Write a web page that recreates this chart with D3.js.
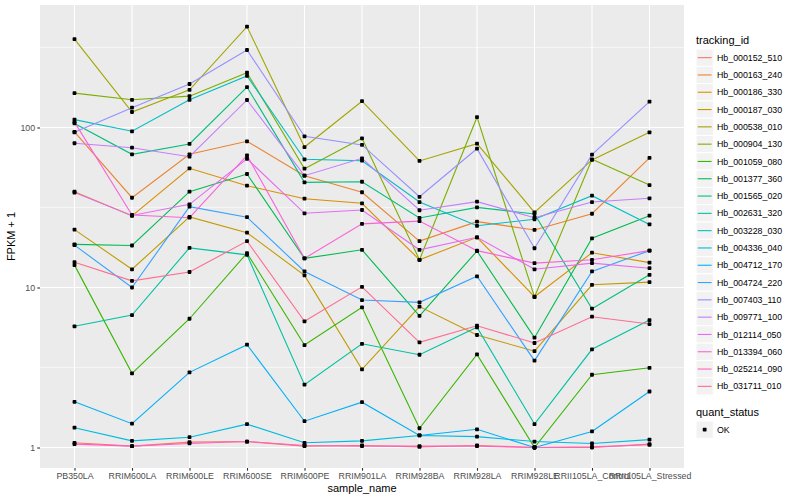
<!DOCTYPE html>
<html>
<head>
<meta charset="utf-8">
<script src="https://cdn.jsdelivr.net/npm/d3@7"></script>
<style>
  body { margin: 0; background: #fff; }
  svg { font-family: "Liberation Sans", Arial, Helvetica, sans-serif; }
</style>
</head>
<body>
<svg id="chart"></svg>
<script>
// sample names (x axis)
const samples = ["PB350LA", "RRIM600LA", "RRIM600LE", "RRIM600SE", "RRIM600PE", "RRIM901LA",
  "RRIM928BA", "RRIM928LA", "RRIM928LE", "RRII105LA_Control", "RRII105LA_Stressed"];

const trackingIds = ["Hb_000152_510", "Hb_000163_240", "Hb_000186_330", "Hb_000187_030",
  "Hb_000538_010", "Hb_000904_130", "Hb_001059_080", "Hb_001377_360", "Hb_001565_020",
  "Hb_002631_320", "Hb_003228_030", "Hb_004336_040", "Hb_004712_170", "Hb_004724_220",
  "Hb_007403_110", "Hb_009771_100", "Hb_012114_050", "Hb_013394_060", "Hb_025214_090",
  "Hb_031711_010"];

// FPKM + 1, one array per gene, in sample order
const hb_000152_510 = [1.07, 1.02, 1.08, 1.09, 1.02, 1.03, 1.01, 1.03, 1.0, 1.0, 1.05];
const hb_000163_240 = [94, 36.4, 68, 82, 50, 39.4, 19.5, 25.8, 22.9, 28.9, 64.5];
const hb_000186_330 = [39.7, 28, 55.6, 43.3, 35.9, 33.6, 14.9, 20.6, 8.76, 16.5, 14.3];
const hb_000187_030 = [23, 13, 27.6, 22, 11.9, 3.08, 7.6, 5.05, 4.0, 10.4, 10.8];
const hb_000538_010 = [357, 125, 172, 427, 75.5, 146, 61.8, 79.2, 29.5, 62.7, 93.3];
const hb_000904_130 = [164, 149, 157, 220, 55.3, 85.6, 14.9, 116, 8.72, 63.3, 43.7];
const hb_001059_080 = [13.8, 2.91, 6.38, 16.4, 4.37, 7.52, 1.32, 3.82, 1.0, 2.85, 3.15];
const hb_001377_360 = [18.6, 18.3, 39.7, 51.2, 15.2, 17.2, 6.64, 16.9, 4.86, 20.3, 28.1];
const hb_001565_020 = [106, 68, 78.9, 179, 45.4, 45.8, 27.2, 31.7, 28.8, 7.37, 12];
const hb_002631_320 = [5.72, 6.73, 17.7, 16.0, 2.47, 4.45, 3.8, 5.64, 1.4, 4.11, 6.26];
const hb_003228_030 = [112, 94.7, 149, 210, 63.3, 62, 34.2, 24.3, 26.7, 37.5, 24.8];
const hb_004336_040 = [1.33, 1.10, 1.16, 1.40, 1.07, 1.10, 1.19, 1.17, 1.09, 1.06, 1.12];
const hb_004712_170 = [1.93, 1.41, 2.95, 4.39, 1.46, 1.92, 1.19, 1.30, 1.0, 1.26, 2.24];
const hb_004724_220 = [18.4, 10, 32, 27.5, 12.6, 8.35, 8.08, 11.75, 3.49, 12.6, 17];
const hb_007403_110 = [93.3, 133, 187, 305, 88.1, 77.8, 36.9, 73.7, 17.6, 67.6, 145];
const hb_009771_100 = [79.7, 74.8, 65.7, 148.6, 50, 64.2, 30.4, 34.4, 27.3, 34.2, 36.1];
const hb_012114_050 = [39.2, 28.2, 33.1, 63.8, 29.1, 30.5, 17.2, 20.6, 13, 14.2, 13.2];
const hb_013394_060 = [108, 28.4, 27.3, 67, 15.2, 25, 26, 17, 14.2, 14.9, 17];
const hb_025214_090 = [1.05, 1.02, 1.06, 1.09, 1.03, 1.02, 1.02, 1.02, 1.0, 1.01, 1.04];
const hb_031711_010 = [14.4, 11, 12.5, 19.5, 6.15, 10.1, 4.54, 5.77, 4.5, 6.57, 5.91];

const seriesValues = [hb_000152_510, hb_000163_240, hb_000186_330, hb_000187_030,
  hb_000538_010, hb_000904_130, hb_001059_080, hb_001377_360, hb_001565_020,
  hb_002631_320, hb_003228_030, hb_004336_040, hb_004712_170, hb_004724_220,
  hb_007403_110, hb_009771_100, hb_012114_050, hb_013394_060, hb_025214_090,
  hb_031711_010];

const yTicks = [1, 10, 100];
const yMinor = [Math.pow(10, 0.5), Math.pow(10, 1.5), Math.pow(10, 2.5)];
const quantStatus = ["OK"];

// ggplot default hue palette for 20 levels
const palette = ["#F8766D", "#EA8331", "#D89000", "#C09B00", "#A3A500", "#7CAE00", "#39B600",
  "#00BB4E", "#00BF7D", "#00C1A3", "#00BFC4", "#00BAE0", "#00B0F6", "#35A2FF", "#9590FF",
  "#C77CFF", "#E76BF3", "#FA62DB", "#FF62BC", "#FF6C91"];

const W = 800, H = 500;
const panel = { left: 40, right: 684, top: 5, bottom: 468 };

const svg = d3.select("#chart").attr("width", W).attr("height", H);

const x = d3.scalePoint().domain(samples).range([panel.left, panel.right]).padding(0.6);
const y = d3.scaleLog()
  .domain([Math.pow(10, -0.128), Math.pow(10, 2.7656)])
  .range([panel.bottom, panel.top]);
const color = d3.scaleOrdinal().domain(trackingIds).range(palette);

// panel background
svg.append("rect")
  .attr("x", panel.left).attr("y", panel.top)
  .attr("width", panel.right - panel.left).attr("height", panel.bottom - panel.top)
  .attr("fill", "#EBEBEB");

const grid = svg.append("g");
grid.selectAll(".minor").data(yMinor).join("line")
  .attr("x1", panel.left).attr("x2", panel.right)
  .attr("y1", d => y(d)).attr("y2", d => y(d))
  .attr("stroke", "#fff").attr("stroke-width", 0.55);
grid.selectAll(".majory").data(yTicks).join("line")
  .attr("x1", panel.left).attr("x2", panel.right)
  .attr("y1", d => y(d)).attr("y2", d => y(d))
  .attr("stroke", "#fff").attr("stroke-width", 1.1);
grid.selectAll(".majorx").data(samples).join("line")
  .attr("x1", d => x(d)).attr("x2", d => x(d))
  .attr("y1", panel.top).attr("y2", panel.bottom)
  .attr("stroke", "#fff").attr("stroke-width", 1.1);

// lines
const line = d3.line()
  .x((d, i) => x(samples[i]))
  .y(d => y(d));

svg.append("g").selectAll("path")
  .data(seriesValues)
  .join("path")
  .attr("d", d => line(d))
  .attr("fill", "none")
  .attr("stroke", (d, i) => color(trackingIds[i]))
  .attr("stroke-width", 1.1);

// points
const pts = [];
seriesValues.forEach(vals => vals.forEach((v, i) => pts.push({ s: samples[i], v })));
svg.append("g").selectAll("rect")
  .data(pts)
  .join("rect")
  .attr("x", d => x(d.s) - 1.9).attr("y", d => y(d.v) - 1.9)
  .attr("width", 3.8).attr("height", 3.8)
  .attr("rx", 0.8)
  .attr("fill", "#000");

// axes
const xAxis = svg.append("g")
  .attr("transform", `translate(0,${panel.bottom})`)
  .call(d3.axisBottom(x).tickSize(2.75).tickPadding(2.2));
const yAxis = svg.append("g")
  .attr("transform", `translate(${panel.left},0)`)
  .call(d3.axisLeft(y).tickValues(yTicks).tickFormat(d3.format("d")).tickSize(2.75).tickPadding(2.2));

[xAxis, yAxis].forEach(a => {
  a.select(".domain").remove();
  a.selectAll(".tick line").attr("stroke", "#333333").attr("stroke-width", 1.1);
  a.selectAll(".tick text").attr("fill", "#4D4D4D").style("font-size", "8.8px");
});

// axis titles
svg.append("text")
  .attr("x", (panel.left + panel.right) / 2).attr("y", 492)
  .attr("text-anchor", "middle").style("font-size", "11px").attr("fill", "#000")
  .text("sample_name");
svg.append("text")
  .attr("transform", `translate(15,${(panel.top + panel.bottom) / 2}) rotate(-90)`)
  .attr("text-anchor", "middle").style("font-size", "11px").attr("fill", "#000")
  .text("FPKM + 1");

// legend: tracking_id
const lg = svg.append("g").attr("transform", "translate(696,0)");
lg.append("text").attr("x", 0).attr("y", 44).style("font-size", "11px").text("tracking_id");
const keyH = 17.3, keyTop = 49;
const keys = lg.selectAll(".key").data(trackingIds).join("g")
  .attr("transform", (d, i) => `translate(0,${keyTop + i * keyH})`);
keys.append("rect").attr("width", 17.3).attr("height", keyH)
  .attr("fill", "#F2F2F2").attr("stroke", "#fff").attr("stroke-width", 1);
keys.append("line").attr("x1", 1.7).attr("x2", 15.6)
  .attr("y1", keyH / 2).attr("y2", keyH / 2)
  .attr("stroke", d => color(d)).attr("stroke-width", 1.1);
keys.append("text").attr("x", 21).attr("y", keyH / 2 + 3.1)
  .style("font-size", "8.8px").text(d => d);

// legend: quant_status
const qTop = 400;
lg.append("text").attr("x", 0).attr("y", qTop + 16).style("font-size", "11px").text("quant_status");
const qk = lg.selectAll(".qkey").data(quantStatus).join("g")
  .attr("transform", (d, i) => `translate(0,${qTop + 21 + i * keyH})`);
qk.append("rect").attr("width", 17.3).attr("height", keyH)
  .attr("fill", "#F2F2F2").attr("stroke", "#fff").attr("stroke-width", 1);
qk.append("rect").attr("x", 17.3 / 2 - 1.9).attr("y", keyH / 2 - 1.9)
  .attr("width", 3.8).attr("height", 3.8).attr("rx", 0.8).attr("fill", "#000");
qk.append("text").attr("x", 21).attr("y", keyH / 2 + 3.1)
  .style("font-size", "8.8px").text(d => d);
</script>
</body>
</html>
